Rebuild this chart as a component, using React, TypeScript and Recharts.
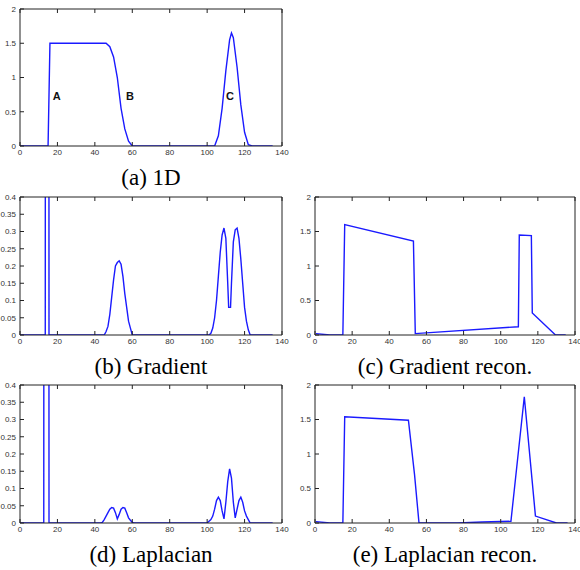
import { LineChart, Line, XAxis, YAxis, ReferenceDot } from "recharts";

const xTicks = [0, 20, 40, 60, 80, 100, 120, 140];
const bigTicks = [0, 0.5, 1, 1.5, 2];
const smallTicks = [0, 0.05, 0.1, 0.15, 0.2, 0.25, 0.3, 0.35, 0.4];

// (a) 1D signal
const oneDX = [0, 15, 16, 20, 40, 46, 48, 50, 52, 54, 56, 58, 60, 62, 100, 104, 106, 108, 110, 112, 113, 114, 116, 118, 120, 122, 124, 135];
const oneDY = [0, 0, 1.5, 1.5, 1.5, 1.5, 1.45, 1.3, 1.0, 0.55, 0.25, 0.07, 0, 0, 0, 0, 0.15, 0.55, 1.1, 1.55, 1.65, 1.58, 1.15, 0.6, 0.2, 0.02, 0, 0];
const oneDLabels = ["A", "B", "C"];
const oneDLabelX = [19.6, 58.8, 112.2];
const oneDLabelY = [0.73, 0.73, 0.73];

// (b) gradient
const gradX = [0, 13.5, 13.6, 15.4, 15.5, 45, 46, 47, 48, 49, 50, 51, 52, 53, 54, 55, 56, 57, 58, 59, 60, 101, 102, 103, 104, 105, 106, 107, 108, 109, 110, 111, 111.5, 112.5, 113, 114, 115, 116, 117, 118, 119, 120, 121, 122, 123, 135];
const gradY = [0, 0, 1.5, 1.5, 0, 0, 0.01, 0.025, 0.06, 0.11, 0.16, 0.2, 0.21, 0.215, 0.205, 0.17, 0.12, 0.08, 0.04, 0.02, 0, 0, 0.005, 0.02, 0.05, 0.1, 0.17, 0.24, 0.29, 0.31, 0.28, 0.15, 0.08, 0.08, 0.15, 0.27, 0.305, 0.31, 0.28, 0.22, 0.15, 0.08, 0.04, 0.015, 0, 0];

// (c) gradient reconstruction
const gradReconX = [0.5, 8, 15, 16, 53, 54, 109.5, 110, 116.5, 117, 129.5, 135];
const gradReconY = [0.02, 0, 0, 1.6, 1.36, 0.02, 0.12, 1.45, 1.44, 0.32, 0, 0];

// (d) laplacian
const lapX = [0, 12.7, 12.8, 15.4, 15.5, 43, 44, 45, 46, 47, 48, 49, 50, 51, 52, 53, 54, 55, 56, 57, 58, 59, 60, 61, 100, 101, 102, 103, 104, 105, 106, 107, 108, 109, 110, 111, 112, 113, 114, 115, 116, 117, 118, 119, 120, 121, 122, 123, 135];
const lapY = [0, 0, 1.5, 1.5, 0, 0, 0.002, 0.01, 0.02, 0.03, 0.04, 0.045, 0.043, 0.03, 0.012, 0.025, 0.04, 0.045, 0.043, 0.03, 0.015, 0.008, 0.002, 0, 0, 0.005, 0.01, 0.02, 0.04, 0.065, 0.075, 0.065, 0.035, 0.012, 0.06, 0.12, 0.157, 0.13, 0.06, 0.015, 0.04, 0.065, 0.075, 0.06, 0.035, 0.02, 0.01, 0, 0];

// (e) laplacian reconstruction
const lapReconX = [0.5, 8, 15, 16, 50.3, 53.6, 56, 77, 90, 105.5, 112.7, 118.7, 130, 136];
const lapReconY = [0.02, 0, 0, 1.54, 1.49, 0.7, 0, 0, 0.015, 0.025, 1.83, 0.1, 0, 0];

const toRows = (xs: number[], ys: number[]) => xs.map((x, i) => ({ x, y: ys[i] }));

const axisColor = "#222";
const tickText = { fontSize: 8, fill: "#333", fontFamily: "Liberation Sans, Arial, sans-serif" };
const blank = () => "";

function Panel({
  left,
  top,
  width,
  height,
  rows,
  yTicks,
  yMax,
  caption,
  labels,
}: {
  left: number;
  top: number;
  width: number;
  height: number;
  rows: { x: number; y: number }[];
  yTicks: number[];
  yMax: number;
  caption: string;
  labels?: boolean;
}) {
  return (
    <>
      <div style={{ position: "absolute", left, top }}>
        <LineChart
          width={width}
          height={height}
          data={rows}
          margin={{ top: 8, right: 7, bottom: 0, left: 0 }}
        >
          <XAxis
            dataKey="x"
            type="number"
            domain={[0, 140]}
            ticks={xTicks}
            height={16}
            tickSize={-4}
            tickMargin={7}
            tick={tickText}
            stroke={axisColor}
            interval={0}
          />
          <XAxis
            xAxisId="top"
            dataKey="x"
            type="number"
            orientation="top"
            domain={[0, 140]}
            ticks={xTicks}
            height={1}
            tickSize={-4}
            tickFormatter={blank}
            stroke={axisColor}
            interval={0}
          />
          <YAxis
            type="number"
            domain={[0, yMax]}
            ticks={yTicks}
            allowDataOverflow
            width={20}
            tickSize={-4}
            tickMargin={8}
            tick={tickText}
            stroke={axisColor}
            interval={0}
          />
          <YAxis
            yAxisId="right"
            orientation="right"
            type="number"
            domain={[0, yMax]}
            ticks={yTicks}
            width={1}
            tickSize={-4}
            tickFormatter={blank}
            stroke={axisColor}
            interval={0}
          />
          <Line
            type="linear"
            dataKey="y"
            stroke="#1a1aff"
            strokeWidth={1.4}
            dot={false}
            isAnimationActive={false}
          />
          {labels &&
            oneDLabels.map((t, i) => (
              <ReferenceDot
                key={t}
                x={oneDLabelX[i]}
                y={oneDLabelY[i]}
                r={0}
                stroke="none"
                label={{
                  value: t,
                  position: "center",
                  fontSize: 11,
                  fontWeight: "bold",
                  fill: "#111",
                  fontFamily: "Liberation Sans, Arial, sans-serif",
                }}
              />
            ))}
        </LineChart>
      </div>
      <div
        style={{
          position: "absolute",
          left: left + 20,
          width: width - 28,
          top: top + height + 3,
          textAlign: "center",
          fontFamily: "'Liberation Serif', 'Times New Roman', serif",
          fontSize: 23,
          lineHeight: "25px",
          color: "#000",
        }}
      >
        {caption}
      </div>
    </>
  );
}

export default function App() {
  return (
    <div
      style={{
        position: "absolute",
        left: 0,
        top: 0,
        width: 580,
        height: 570,
        overflow: "hidden",
        background: "#fff",
      }}
    >
      <Panel left={0} top={0} width={290} height={162} rows={toRows(oneDX, oneDY)} yTicks={bigTicks} yMax={2} caption="(a) 1D" labels />
      <Panel left={0} top={188} width={290} height={163} rows={toRows(gradX, gradY)} yTicks={smallTicks} yMax={0.4} caption="(b) Gradient" />
      <Panel left={295} top={188} width={288} height={163} rows={toRows(gradReconX, gradReconY)} yTicks={bigTicks} yMax={2} caption="(c) Gradient recon." />
      <Panel left={0} top={376} width={290} height={163} rows={toRows(lapX, lapY)} yTicks={smallTicks} yMax={0.4} caption="(d) Laplacian" />
      <Panel left={295} top={376} width={288} height={163} rows={toRows(lapReconX, lapReconY)} yTicks={bigTicks} yMax={2} caption="(e) Laplacian recon." />
    </div>
  );
}
